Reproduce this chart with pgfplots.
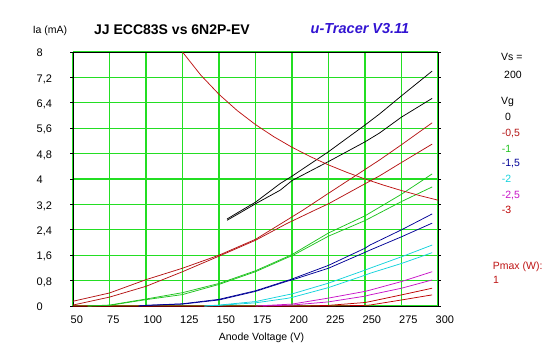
\documentclass[border=0pt]{standalone}
\usepackage{pgfplots}
\pgfplotsset{compat=1.18}
\usepackage{fontspec}
\setmainfont{Liberation Sans}
\definecolor{gridgreen}{RGB}{35,222,35}
\definecolor{cA}{RGB}{0,0,0}
\definecolor{cB}{RGB}{180,20,20}
\definecolor{cC}{RGB}{30,195,30}
\definecolor{cD}{RGB}{0,0,150}
\definecolor{cE}{RGB}{20,210,220}
\definecolor{cF}{RGB}{200,20,200}
\definecolor{cG}{RGB}{190,0,0}
\definecolor{cP}{RGB}{190,20,20}
\definecolor{titleblue}{RGB}{50,20,210}
\begin{document}
\begin{tikzpicture}
\path[use as bounding box] (-73bp,-51bp) rectangle (474bp,306bp);
\begin{axis}[
  at={(0,0)}, anchor=south west,
  scale only axis, width=365bp, height=254bp,
  xmin=50, xmax=300, ymin=0, ymax=8,
  xtick={50,75,...,300},
  ytick={0,0.8,1.6,2.4,3.2,4,4.8,5.6,6.4,7.2,8},
  yticklabels={0,{0,8},{1,6},{2,4},{3,2},4,{4,8},{5,6},{6,4},{7,2},8},
  grid=major,
  major grid style={gridgreen, line width=1.3bp},
  axis line style={black, line width=0.9bp},
  tick align=outside, major tick length=2.5bp,
  x tick style={draw=none},
  y tick style={black, line width=0.8bp},
  /pgf/number format/assume math mode=true,
  tick label style={font=\fontsize{11bp}{13bp}\selectfont},
  yticklabel style={anchor=base west, inner sep=0pt, xshift=-34bp, yshift=-4.6bp},
  xticklabel style={anchor=base west, inner sep=0pt, xshift=-2.5bp, yshift=-15.4bp},
  every axis plot/.append style={line width=0.75bp, no markers},
  clip=true,
]
% Vg = -3
\addplot[cG] coordinates {(50,0) (210,0) (225,0.02) (250,0.11) (253.4,0.14) (275,0.35) (296,0.56)};
\addplot[cG] coordinates {(50,0) (225,0) (250,0.02) (253.4,0.03) (275,0.19) (296,0.35)};
% Vg = -2.5
\addplot[cF] coordinates {(175,0) (200,0.06) (225,0.25) (250,0.46) (253.4,0.5) (275,0.77) (296,1.08)};
\addplot[cF] coordinates {(180,0) (200,0.03) (225,0.13) (250,0.31) (253.4,0.35) (275,0.56) (296,0.82)};
% Vg = -2
\addplot[cE] coordinates {(140,0) (150,0.03) (175,0.14) (196.6,0.35) (200,0.38) (225,0.72) (250,1.13) (253.4,1.19) (275,1.55) (296,1.92)};
\addplot[cE] coordinates {(140,0) (150,0.02) (175,0.1) (196.6,0.24) (200,0.27) (225,0.58) (250,0.97) (253.4,1.03) (275,1.34) (296,1.68)};
% Vg = -1.5
\addplot[cD] coordinates {(95,0) (100,0.02) (125,0.07) (150,0.21) (175,0.48) (196.6,0.8) (200,0.85) (225,1.28) (250,1.82) (253.4,1.92) (275,2.4) (296,2.9)};
\addplot[cD] coordinates {(95,0) (100,0.02) (125,0.06) (150,0.19) (175,0.46) (196.6,0.78) (200,0.82) (225,1.19) (250,1.69) (253.4,1.76) (275,2.18) (296,2.61)};
% Vg = -1
\addplot[cC] coordinates {(60,0) (75,0.03) (100,0.22) (125,0.42) (150,0.71) (175,1.11) (196.6,1.55) (200,1.62) (225,2.3) (250,2.84) (275,3.52) (296,4.16)};
\addplot[cC] coordinates {(60,0) (75,0.02) (100,0.2) (125,0.36) (150,0.68) (175,1.08) (196.6,1.52) (200,1.58) (225,2.2) (250,2.69) (275,3.29) (296,3.75)};
% Vg = -0.5
\addplot[cB] coordinates {(50,0.15) (75,0.41) (100,0.83) (125,1.19) (150,1.6) (175,2.1) (196.6,2.71) (207.5,3.02) (225,3.55) (250,4.3) (260,4.6) (275,5.08) (296,5.77)};
\addplot[cB] coordinates {(50,0.03) (75,0.28) (100,0.62) (125,1.08) (150,1.57) (175,2.07) (196.6,2.6) (215.7,3.02) (225,3.22) (250,3.85) (260,4.1) (275,4.52) (296,5.1)};
% Vg = 0
\addplot[cA] coordinates {(155.5,2.74) (165,3.0) (175,3.27) (192,3.86) (200,4.09) (225,4.86) (250,5.7) (260,6.05) (275,6.62) (296,7.4)};
\addplot[cA] coordinates {(155.5,2.7) (165,2.95) (175,3.22) (192,3.65) (200,3.95) (225,4.55) (250,5.17) (260,5.45) (275,5.95) (296,6.54)};
% Pmax = 1 W
\addplot[cP] coordinates {(125,8) (137.5,7.273) (150,6.667) (162.5,6.154) (175,5.714) (187.5,5.333) (200,5) (212.5,4.706) (225,4.444) (237.5,4.211) (250,4) (262.5,3.81) (275,3.636) (287.5,3.478) (300,3.333)};
\end{axis}
\begin{scope}[every node/.style={inner sep=0pt, font=\fontsize{10.5bp}{12bp}\selectfont}]
\node[anchor=mid] at (-23bp,275bp) {Ia (mA)};
\node[anchor=mid, font=\fontsize{14bp}{16bp}\selectfont\bfseries] at (99bp,274.3bp) {JJ ECC83S vs 6N2P-EV};
\node[anchor=mid, text=titleblue, font=\fontsize{14.5bp}{16bp}\selectfont\bfseries\itshape] at (287bp,275.3bp) {u-Tracer V3.11};
\node[anchor=mid] at (188.5bp,-31.7bp) {Anode Voltage (V)};
\node[anchor=mid west] at (428bp,248bp) {Vs =};
\node[anchor=mid west] at (431bp,230bp) {200};
\node[anchor=mid west] at (428bp,204.3bp) {Vg};
\node[anchor=mid west, text=cA] at (432bp,188bp) {0};
\node[anchor=mid west, text=cB] at (428.7bp,172bp) {-0,5};
\node[anchor=mid west, text=cC] at (428.7bp,156bp) {-1};
\node[anchor=mid west, text=cD] at (428.7bp,141.7bp) {-1,5};
\node[anchor=mid west, text=cE] at (428.7bp,126bp) {-2};
\node[anchor=mid west, text=cF] at (428.7bp,110.3bp) {-2,5};
\node[anchor=mid west, text=cG] at (428.7bp,95bp) {-3};
\node[anchor=mid west, text=cP] at (419.7bp,38.7bp) {Pmax (W):};
\node[anchor=mid west, text=cP] at (420bp,25bp) {1};
\end{scope}
\end{tikzpicture}
\end{document}
